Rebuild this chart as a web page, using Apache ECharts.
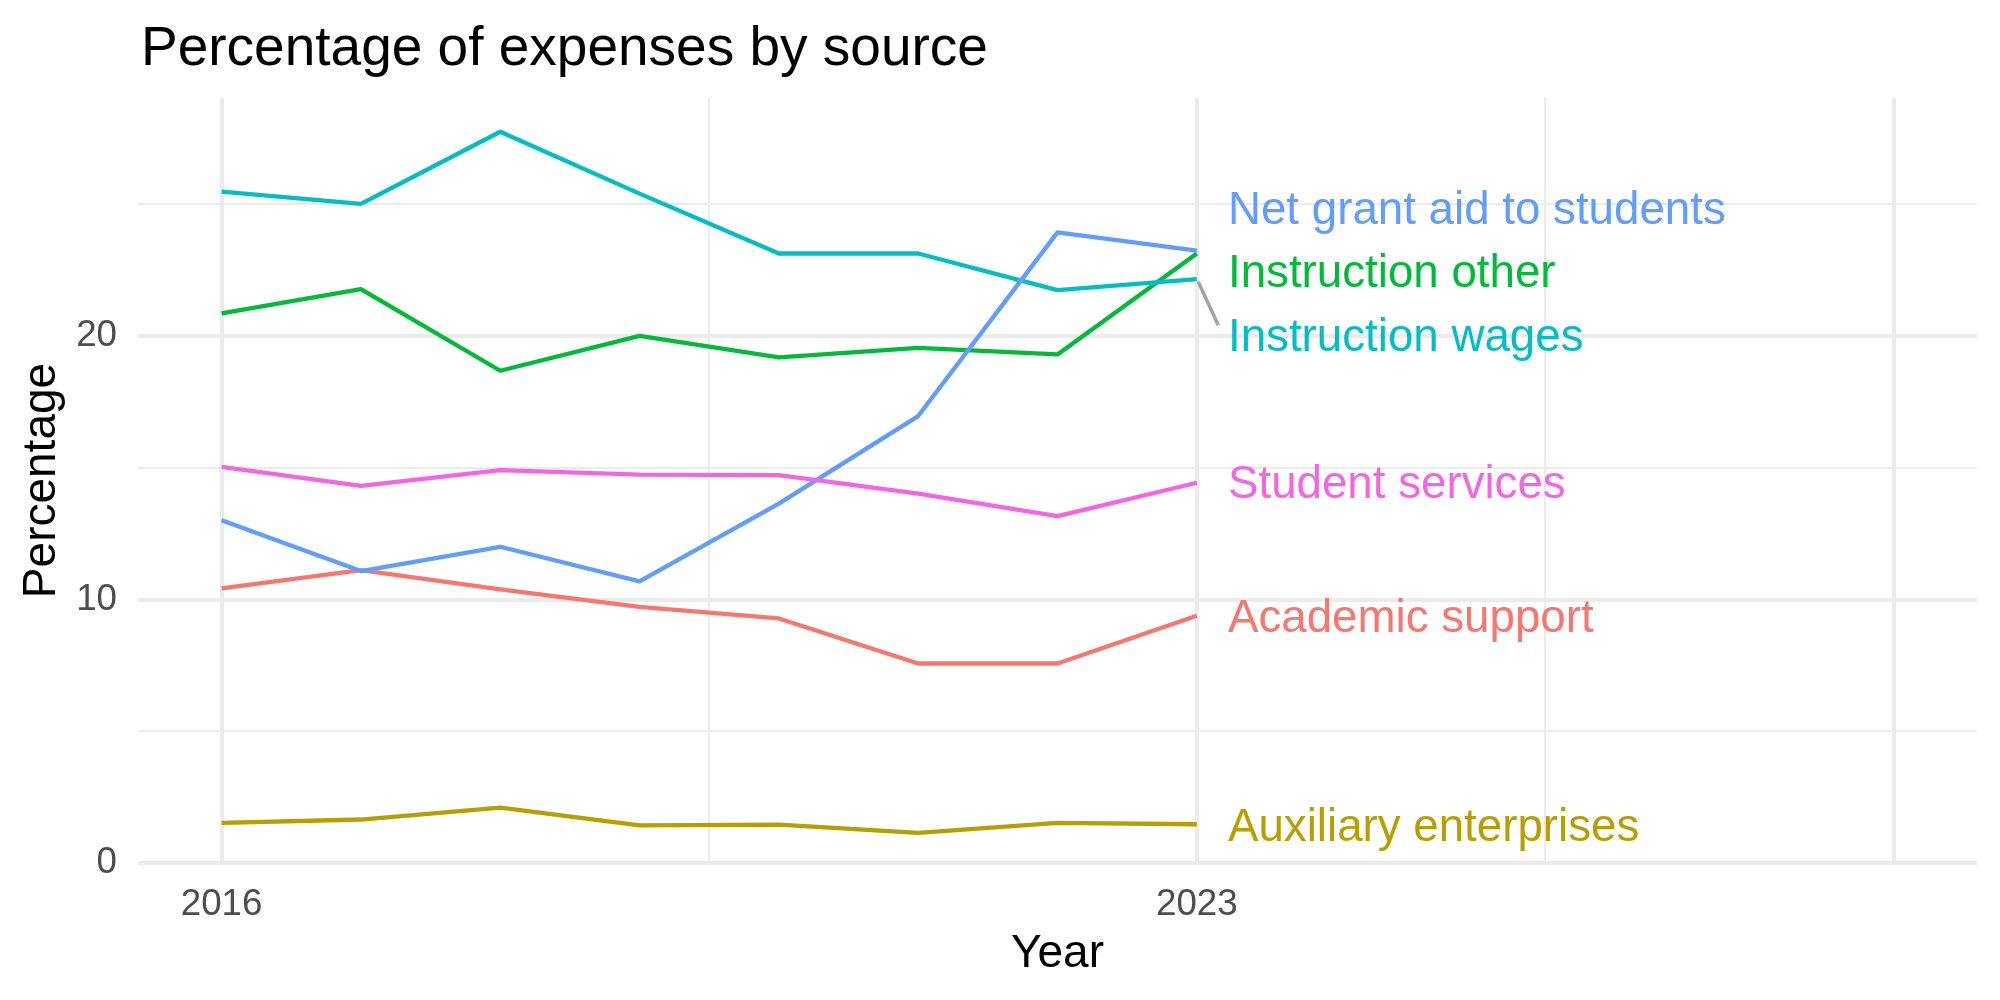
<!DOCTYPE html>
<html>
<head>
<meta charset="utf-8">
<script src="https://cdn.jsdelivr.net/npm/echarts@6.0.0/dist/echarts.min.js"></script>
<style>
html, body { margin: 0; padding: 0; background: #fff; }
#chart { width: 2000px; height: 1000px; }
</style>
</head>
<body>
<div id="chart"></div>
<script>
const years = [2016, 2017, 2018, 2019, 2020, 2021, 2022, 2023]
const sources = ['Academic support', 'Auxiliary enterprises', 'Instruction other',
  'Instruction wages', 'Net grant aid to students', 'Student services']
const academicSupport = [10.42, 11.11, 10.38, 9.72, 9.28, 7.57, 7.57, 9.38]
const auxiliaryEnterprises = [1.52, 1.65, 2.10, 1.43, 1.46, 1.14, 1.52, 1.47]
const instructionOther = [20.86, 21.78, 18.68, 20.00, 19.19, 19.55, 19.30, 23.13]
const instructionWages = [25.48, 25.01, 27.75, 25.40, 23.13, 23.13, 21.74, 22.16]
const netGrantAid = [13.01, 11.08, 12.00, 10.69, 13.64, 16.96, 23.93, 23.24]
const studentServices = [15.03, 14.31, 14.91, 14.74, 14.72, 14.02, 13.16, 14.43]

// repelled label positions (data units) and the one label segment
const labelX = 2023.22
const labelY = [9.25, 1.33, 22.33, 19.92, 24.74, 14.34]
const wagesSegFrom = [2023.01, 22.06]
const wagesSegTo = [2023.154, 20.41]

// ticks / breaks
const xTickLabels = [2016, 2023]
const xMajor = [2016, 2023, 2028]
const xMinor = [2019.5, 2025.5]
const yMajor = [0, 10, 20]
const yMinor = [5, 15, 25]

const values = [academicSupport, auxiliaryEnterprises, instructionOther,
  instructionWages, netGrantAid, studentServices]
const colors = ['#F8766D', '#B79F00', '#00BA38', '#00BFC4', '#619CFF', '#F564E3']
const FONT = "'Liberation Sans', Arial, Helvetica, sans-serif"

const chart = echarts.init(document.getElementById('chart'))

//gridlines drawn as markLines so majors and minors can differ
const gridLines = []
xMajor.forEach(v => gridLines.push({ xAxis: v, lineStyle: { width: 4 } }))
xMinor.forEach(v => gridLines.push({ xAxis: v, lineStyle: { width: 2 } }))
yMajor.forEach(v => gridLines.push({ yAxis: v, lineStyle: { width: 4 } }))
yMinor.forEach(v => gridLines.push({ yAxis: v, lineStyle: { width: 2 } }))

const series = [
  {
    name: 'grid',
    type: 'line',
    data: [],
    silent: true,
    z: 1,
    markLine: {
      silent: true,
      z: 1,
      symbol: ['none', 'none'],
      label: { show: false },
      emphasis: { disabled: true },
      lineStyle: { color: '#EBEBEB', type: 'solid' },
      data: gridLines
    }
  }
]

for (let i = 0; i < sources.length; i++) {
  const s = {
    name: sources[i],
    type: 'line',
    z: 10,
    data: years.map((y, k) => [y, values[i][k]]),
    showSymbol: false,
    symbol: 'none',
    lineStyle: { color: colors[i], width: 4.3, join: 'round' },
    itemStyle: { color: colors[i] }
  }
  if (sources[i] === 'Instruction wages') {
    s.markLine = {
      silent: true,
      symbol: ['none', 'none'],
      label: { show: false },
      emphasis: { disabled: true },
      lineStyle: { color: '#A3A3A3', width: 3.5, type: 'solid' },
      data: [[{ coord: wagesSegFrom }, { coord: wagesSegTo }]]
    }
  }
  series.push(s)
}

series.push({
  name: 'labels',
  type: 'scatter',
  z: 11,
  symbolSize: 1,
  itemStyle: { color: 'transparent', opacity: 1 },
  silent: true,
  data: sources.map((name, i) => ({
    name: name,
    value: [labelX, labelY[i]],
    label: { color: colors[i] }
  })),
  label: {
    show: true,
    position: 'right',
    distance: 0,
    opacity: 1,
    formatter: '{b}',
    fontSize: 45.7,
    fontFamily: FONT
  }
})

const option = {
  animation: false,
  backgroundColor: '#ffffff',
  title: {
    text: 'Percentage of expenses by source',
    left: 136,
    top: 17,
    textStyle: { fontSize: 55, fontWeight: 'normal', color: '#000', fontFamily: FONT }
  },
  grid: { left: 138, right: 23, top: 98, bottom: 137 },
  xAxis: {
    type: 'value',
    min: 2015.4,
    max: 2028.6,
    name: 'Year',
    nameLocation: 'middle',
    nameGap: 68,
    nameTextStyle: { fontSize: 46, color: '#000', fontFamily: FONT },
    axisLine: { show: false },
    axisTick: { show: false },
    splitLine: { show: false },
    axisLabel: {
      customValues: xTickLabels,
      formatter: v => String(v),
      fontSize: 36.7,
      color: '#4D4D4D',
      margin: 23,
      fontFamily: FONT
    }
  },
  yAxis: {
    type: 'value',
    min: 0,
    max: 29.03,
    interval: 10,
    name: 'Percentage',
    nameLocation: 'middle',
    nameGap: 72,
    nameTextStyle: { fontSize: 46, color: '#000', fontFamily: FONT },
    axisLine: { show: false },
    axisTick: { show: false },
    splitLine: { show: false },
    axisLabel: {
      showMaxLabel: false,
      fontSize: 36.7,
      color: '#4D4D4D',
      margin: 21,
      fontFamily: FONT
    }
  },
  series: series
}

chart.setOption(option)
</script>
</body>
</html>
